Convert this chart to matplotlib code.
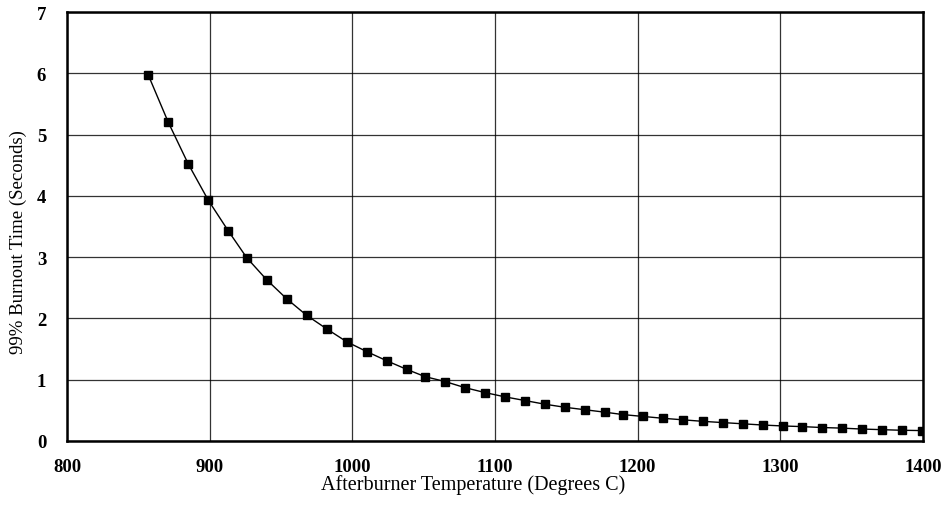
# -*- coding: utf-8 -*-
# Burnout time vs afterburner temperature
import numpy as np
import matplotlib
matplotlib.use("Agg")
import matplotlib.pyplot as plt

# -- Data
temp_c = [857, 871, 885, 899, 913, 926, 940, 954, 968, 982,
          996, 1010, 1024, 1038, 1051, 1065, 1079, 1093, 1107, 1121,
          1135, 1149, 1163, 1177, 1190, 1204, 1218, 1232, 1246, 1260,
          1274, 1288, 1302, 1315, 1329, 1343, 1357, 1371, 1385, 1399]
burnout_s = [5.97, 5.20, 4.52, 3.93, 3.43, 2.99, 2.63, 2.32, 2.05, 1.83,
             1.62, 1.46, 1.31, 1.17, 1.05, 0.97, 0.87, 0.79, 0.72, 0.66,
             0.60, 0.55, 0.51, 0.47, 0.43, 0.40, 0.37, 0.345, 0.32, 0.30,
             0.28, 0.26, 0.245, 0.235, 0.22, 0.21, 0.195, 0.185, 0.175, 0.17]
x_ticks = [800, 900, 1000, 1100, 1200, 1300, 1400]
y_ticks = [0, 1, 2, 3, 4, 5, 6, 7]

# -- Plot settings
serif = ['Liberation Serif', 'DejaVu Serif']
plt.rcParams['font.family'] = serif

fig = plt.figure(figsize=(9.49, 5.06), dpi=100)
ax = fig.add_axes([0.0706, 0.1265, 0.902, 0.8478])

ax.plot(temp_c, burnout_s, color='black', lw=1.0, marker='s',
        markersize=6.0, markerfacecolor='black', markeredgecolor='black',
        zorder=3)

ax.set_xlim(800, 1400)
ax.set_ylim(0, 7)
ax.set_xticks(x_ticks)
ax.set_yticks(y_ticks)
ax.set_xticklabels([str(v) for v in x_ticks], fontsize=13.5, fontweight='bold')
ax.set_yticklabels([str(v) for v in y_ticks], fontsize=13.5, fontweight='bold')
ax.tick_params(axis='both', length=0)
ax.tick_params(axis='x', pad=12)
ax.tick_params(axis='y', pad=15)

# -- Grid and frame
ax.grid(True, which='major', color='black', linestyle='-', lw=0.9, alpha=0.8)
ax.set_axisbelow(True)
for sp in ax.spines.values():
    sp.set_linewidth(1.8)
    sp.set_color('black')

# -- Labels
ax.set_xlabel('Afterburner Temperature (Degrees C)', fontsize=14.5)
ax.xaxis.set_label_coords((473 - 67) / 856, -0.078)
ax.set_ylabel('99% Burnout Time (Seconds)', fontsize=13.5)
ax.yaxis.set_label_coords(-0.047, (442 - 242) / 429)

plt.savefig('out.png', format='png', dpi=100)
plt.close(fig)
